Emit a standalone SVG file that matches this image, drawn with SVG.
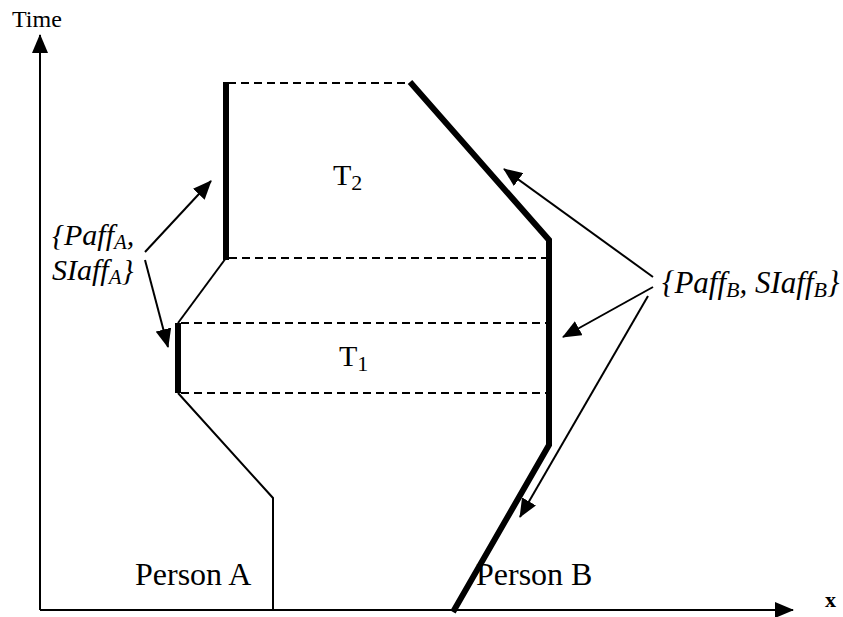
<svg xmlns="http://www.w3.org/2000/svg" width="843" height="617" viewBox="0 0 843 617">
<style>
text{font-family:'Liberation Serif','Times New Roman',Times,serif;fill:#000}
.thin{stroke:#000;stroke-width:2;fill:none}
.thick{stroke:#000;stroke-width:6;fill:none}
.dash{stroke:#000;stroke-width:2;stroke-dasharray:8,5;fill:none}
.arr{stroke:#000;stroke-width:2;fill:none;marker-end:url(#ah)}
</style>
<defs>
<marker id="ah" markerUnits="userSpaceOnUse" markerWidth="20" markerHeight="16" refX="18" refY="8" orient="auto">
<path d="M0,0 L19,8 L0,16 Z" fill="#000"/>
</marker>
</defs>
<rect width="843" height="617" fill="#fff"/>
<g id="axes">
<line class="arr" x1="40" y1="610" x2="40" y2="35"/>
<line class="arr" x1="40" y1="610" x2="793" y2="610"/>
<text x="12" y="27" font-size="24">Time</text>
<text x="825" y="607" font-size="22" font-weight="bold">x</text>
</g>
<g id="personA">
<polyline class="thin" points="273,610 273,498 178,393"/>
<line class="thick" x1="178" y1="393" x2="178" y2="323"/>
<line class="thin" x1="178" y1="323" x2="226" y2="258"/>
<line class="thick" x1="226" y1="260" x2="226" y2="82"/>
<text x="135" y="585" font-size="32">Person A</text>
</g>
<g id="personB">
<polyline class="thick" points="453,612 549,445 549,240 410,82" stroke-linejoin="miter"/>
<text x="476" y="585" font-size="32">Person B</text>
</g>
<g id="intervals">
<line class="dash" x1="228" y1="83" x2="410" y2="83"/>
<line class="dash" x1="229" y1="258" x2="546" y2="258"/>
<line class="dash" x1="181" y1="323" x2="546" y2="323"/>
<line class="dash" x1="181" y1="393" x2="546" y2="393"/>
<text x="333" y="185" font-size="30">T<tspan font-size="22" dy="5">2</tspan></text>
<text x="339" y="366" font-size="30">T<tspan font-size="22" dy="5">1</tspan></text>
</g>
<g id="labelA">
<text x="52" y="245" font-size="30" font-style="italic">{Paff<tspan font-size="21" dy="4">A</tspan><tspan dy="-4">,</tspan></text>
<text x="52" y="280" font-size="30" font-style="italic">SIaff<tspan font-size="21" dy="4">A</tspan><tspan dy="-4">}</tspan></text>
</g>
<g id="labelB">
<text x="662" y="293" font-size="31" font-style="italic">{Paff<tspan font-size="22" dy="4">B</tspan><tspan dy="-4">, SIaff</tspan><tspan font-size="22" dy="4">B</tspan><tspan dy="-4">}</tspan></text>
</g>
<g id="connectors">
<line class="arr" x1="145" y1="252" x2="211" y2="181"/>
<line class="arr" x1="145" y1="260" x2="168" y2="347"/>
<line class="arr" x1="653" y1="277" x2="504" y2="169"/>
<line class="arr" x1="653" y1="287" x2="563" y2="337"/>
<line class="arr" x1="648" y1="296" x2="520" y2="517"/>
</g>
</svg>
